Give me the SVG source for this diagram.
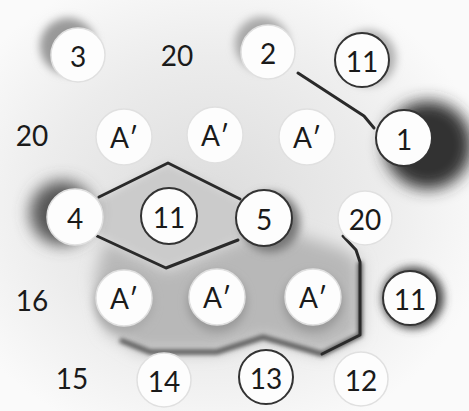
<svg xmlns="http://www.w3.org/2000/svg" width="469" height="411" viewBox="0 0 469 411">
<defs>
<filter id="b8" x="-50%" y="-50%" width="200%" height="200%"><feGaussianBlur stdDeviation="8"/></filter>
<filter id="b4" x="-50%" y="-50%" width="200%" height="200%"><feGaussianBlur stdDeviation="4"/></filter>
<filter id="b2" x="-50%" y="-50%" width="200%" height="200%"><feGaussianBlur stdDeviation="2"/></filter>
<radialGradient id="bg" cx="0.45" cy="0.5" r="0.6">
<stop offset="0" stop-color="#dcdcdc"/><stop offset="0.6" stop-color="#ececec"/><stop offset="1" stop-color="#fafafa"/>
</radialGradient>
</defs>
<style>
text{font-family:"Lato","Liberation Sans",sans-serif;font-size:28px;fill:#1a1a1a;text-anchor:middle;dominant-baseline:central}
.c{fill:#fdfdfd;stroke:#e0e0e0;stroke-width:1.5}
.o{fill:#fdfdfd;stroke:#333;stroke-width:2}
.ln{fill:none;stroke:#2a2a2a;stroke-width:3;stroke-linejoin:round;stroke-linecap:round}
</style>
<rect width="469" height="411" fill="url(#bg)"/>
<g id="shading">
<path d="M105,240 L168,270 L240,240 L290,232 L345,250 L360,262 L360,335 L322,354 L263,337 L217,352 L140,352 L105,330 L95,280 Z" fill="#b8b8b8" filter="url(#b8)"/>
<path d="M97,200 L168,163 L240,200 L240,238 L168,268 L97,235 Z" fill="#cbcbcb" filter="url(#b4)"/>
<path d="M360,262 L360,335 L322,354 L263,337 L217,352 L150,352 L120,340" fill="none" stroke="#555" stroke-width="5" filter="url(#b2)"/>
<circle cx="428" cy="145" r="44" fill="#333" filter="url(#b8)"/>
<circle cx="68" cy="46" r="28" fill="#999" filter="url(#b4)"/>
<circle cx="262" cy="44" r="27" fill="#a8a8a8" filter="url(#b4)"/>
<circle cx="368" cy="58" r="28" fill="#b0b0b0" filter="url(#b4)"/>
<circle cx="62" cy="213" r="32" fill="#555" filter="url(#b8)"/>
<circle cx="270" cy="222" r="30" fill="#777" filter="url(#b4)"/>
<circle cx="413" cy="298" r="31" fill="#444" filter="url(#b4)"/>
<circle cx="124" cy="302" r="30" fill="#aaa" filter="url(#b4)"/>
<circle cx="217" cy="302" r="30" fill="#999" filter="url(#b4)"/>
<circle cx="313" cy="302" r="30" fill="#999" filter="url(#b4)"/>
</g>
<g id="connectors">
<path class="ln" d="M298,73 L364,116 L374,128"/>
<path class="ln" d="M99,197 L168,163 L240,199"/>
<path class="ln" d="M97,236 L166,268 L238,240"/>
<path class="ln" stroke-width="2.5" d="M343,236 L356,250 L360,262 L360,335 L322,354"/>
</g>
<g id="n3"><circle class="c" cx="78" cy="55" r="27"/><text x="78" y="56">3</text></g>
<g id="t20a"><text x="177" y="55">20</text></g>
<g id="n2"><circle class="c" cx="268" cy="52" r="27"/><text x="268" y="53">2</text></g>
<g id="n11a"><circle class="o" cx="362" cy="60" r="27"/><text x="362" y="61">11</text></g>
<g id="t20b"><text x="32" y="135">20</text></g>
<g id="a1"><circle class="c" cx="124" cy="137" r="28"/><text x="124" y="137">A′</text></g>
<g id="a2"><circle class="c" cx="215" cy="135" r="28"/><text x="215" y="135">A′</text></g>
<g id="a3"><circle class="c" cx="307" cy="137" r="28"/><text x="307" y="137">A′</text></g>
<g id="n1"><circle class="o" cx="404" cy="138" r="28"/><text x="404" y="139">1</text></g>
<g id="n4"><circle class="c" cx="75" cy="217" r="28"/><text x="75" y="218">4</text></g>
<g id="n11b"><circle class="o" cx="169" cy="216" r="28"/><text x="169" y="217">11</text></g>
<g id="n5"><circle class="o" cx="264" cy="218" r="28"/><text x="264" y="219">5</text></g>
<g id="n20c"><circle class="c" cx="365" cy="218" r="27"/><text x="365" y="219">20</text></g>
<g id="t16"><text x="32" y="300">16</text></g>
<g id="a4"><circle class="c" cx="124" cy="298" r="28"/><text x="124" y="298">A′</text></g>
<g id="a5"><circle class="c" cx="217" cy="297" r="28"/><text x="217" y="297">A′</text></g>
<g id="a6"><circle class="c" cx="313" cy="297" r="28"/><text x="313" y="297">A′</text></g>
<g id="n11c"><circle class="o" cx="410" cy="298" r="27"/><text x="410" y="299">11</text></g>
<g id="t15"><text x="72" y="378">15</text></g>
<g id="n14"><circle class="c" cx="164" cy="380" r="27"/><text x="164" y="381">14</text></g>
<g id="n13"><circle class="o" cx="266" cy="377" r="27"/><text x="266" y="378">13</text></g>
<g id="n12"><circle class="c" cx="361" cy="379" r="27"/><text x="361" y="380">12</text></g>
</svg>
